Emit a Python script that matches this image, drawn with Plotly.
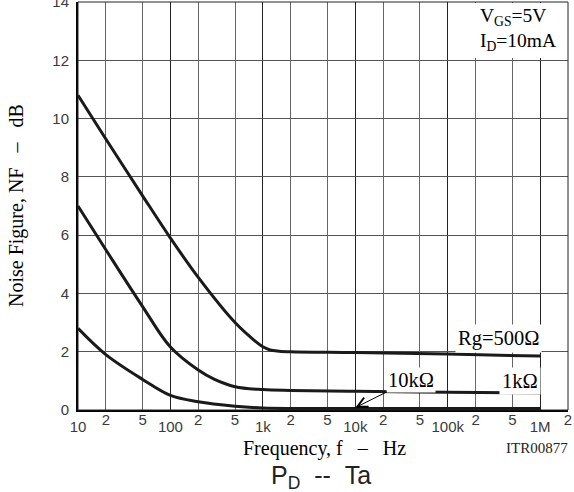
import plotly.graph_objects as go

# ---- data ----
freq_500 = [10, 20, 50, 100, 200, 500, 800, 1000, 1200, 1500, 2000, 10000, 100000, 1000000]
nf_500 = [10.8, 9.3, 7.35, 5.9, 4.55, 3.0, 2.4, 2.17, 2.06, 2.02, 2.0, 1.97, 1.92, 1.85]

freq_1k = [10, 20, 50, 100, 200, 300, 500, 1000, 2000, 10000, 100000, 1000000]
nf_1k = [7.0, 5.5, 3.55, 2.16, 1.37, 1.05, 0.8, 0.7, 0.67, 0.64, 0.61, 0.58]

freq_10k = [10, 20, 50, 100, 200, 500, 1000, 10000, 1000000]
nf_10k = [2.8, 1.9, 1.05, 0.5, 0.28, 0.13, 0.07, 0.05, 0.05]

major_ticks = [10, 100, 1000, 10000, 100000, 1000000]
major_labels = ["10", "100", "1k", "10k", "100k", "1M"]
minor_ticks = [20, 50, 200, 500, 2000, 5000, 20000, 50000, 200000, 500000, 2000000]
minor_labels = ["2", "5", "2", "5", "2", "5", "2", "5", "2", "5", "2"]
y_ticks = [0, 2, 4, 6, 8, 10, 12, 14]

# ---- geometry ----
W, H = 574, 492
ML, MR, MT, MB = 78, 6, 2, 82
PW, PH = W - ML - MR, H - MT - MB


def px(x):
    return (x - ML) / PW


def py(y):
    return (H - MB - y) / PH


SERIF = "Liberation Serif, Times New Roman, serif"
SANS = "Liberation Sans, Arial, sans-serif"
NB = "\u00a0"

fig = go.Figure()
line = dict(color="#1a1a1a", width=3, shape="spline", smoothing=1.0)
for f, nf, name in [(freq_500, nf_500, "500"), (freq_1k, nf_1k, "1k"), (freq_10k, nf_10k, "10k")]:
    fig.add_trace(go.Scatter(x=f, y=nf, mode="lines", line=line, name=name,
                             showlegend=False, hoverinfo="skip"))
# invisible trace to activate overlay x axis
fig.add_trace(go.Scatter(x=[10, 2000000], y=[0, 0], xaxis="x2", mode="lines",
                         line=dict(width=0), showlegend=False, hoverinfo="skip"))

xr = [1, 6.30115]
tickfont = dict(family=SANS, size=15, color="#3a3a3a")
fig.update_layout(
    width=W, height=H,
    margin=dict(l=ML, r=MR, t=MT, b=MB, autoexpand=False),
    paper_bgcolor="white", plot_bgcolor="white",
    xaxis=dict(type="log", range=xr, tickvals=major_ticks, ticktext=major_labels,
               showgrid=True, gridcolor="#222", gridwidth=1.4, ticks="",
               showline=True, linecolor="black", linewidth=2, zeroline=False,
               tickfont=tickfont, ticklabelstandoff=2, automargin=False,
               ticklabeloverflow="allow"),
    xaxis2=dict(type="log", range=xr, overlaying="x", side="bottom", anchor="y",
                tickvals=minor_ticks, ticktext=minor_labels,
                showgrid=True, gridcolor="#666", gridwidth=1, ticks="",
                showline=False, zeroline=False,
                tickfont=tickfont, ticklabelstandoff=-1, automargin=False,
                ticklabeloverflow="allow"),
    yaxis=dict(range=[0, 14.001], tickvals=y_ticks, showgrid=True, gridcolor="#555",
               gridwidth=1, ticks="", showline=True, linecolor="black", linewidth=2,
               zeroline=False, tickfont=tickfont, ticklabelstandoff=4,
               automargin=False, ticklabeloverflow="allow"),
)

# plot border
fig.add_shape(type="rect", xref="paper", yref="paper", x0=0, x1=1, y0=0, y1=1,
              line=dict(color="#222", width=1), layer="above")
# white box behind conditions text
fig.add_shape(type="rect", xref="paper", yref="paper", x0=px(456), x1=px(566),
              y0=py(58), y1=py(3), fillcolor="white", line=dict(width=0), layer="above")

C = dict(xanchor="center", yanchor="middle", showarrow=False)
ann = []
ann.append(dict(xref="paper", yref="paper", x=px(518), y=py(30), **C, align="left",
                text="V<sub>GS</sub>=5V<br>I<sub>D</sub>=10mA",
                font=dict(family=SERIF, size=19.5, color="black")))
ann.append(dict(xref="paper", yref="paper", x=px(498), y=py(338), **C,
                text="Rg=500Ω", bgcolor="white", borderpad=2,
                font=dict(family=SERIF, size=20.5, color="black")))
ann.append(dict(xref="paper", yref="paper", x=px(520), y=py(381), **C,
                text="1kΩ", bgcolor="white", borderpad=2,
                font=dict(family=SERIF, size=20.5, color="black")))
ann.append(dict(xref="x", yref="y", x=4, y=0.08, ax=56, ay=-28, showarrow=True,
                xanchor="center", yanchor="middle",
                arrowhead=5, arrowsize=2, arrowwidth=1, arrowcolor="black",
                text="10kΩ", bgcolor="white", borderpad=1,
                font=dict(family=SERIF, size=20.5, color="black")))
ann.append(dict(xref="paper", yref="paper", x=px(324), y=py(448), **C,
                text="Frequency," + NB + "f" + NB * 3 + "–" + NB * 3 + "Hz",
                font=dict(family=SERIF, size=20, color="black")))
ann.append(dict(xref="paper", yref="paper", x=px(537), y=py(448), **C,
                text="ITR00877", font=dict(family=SERIF, size=15, color="#222")))
ann.append(dict(xref="paper", yref="paper", x=px(16), y=py(206), **C,
                textangle=-90,
                text="Noise" + NB + "Figure," + NB + "NF" + NB * 3 + "–" + NB * 3 + "dB",
                font=dict(family=SERIF, size=20, color="black")))
ann.append(dict(xref="paper", yref="paper", x=px(321), y=py(477), **C,
                text="P<sub>D</sub>" + NB * 2 + "--" + NB * 2 + "Ta",
                font=dict(family=SANS, size=25, color="#222")))
ann.append(dict(xref="paper", yref="paper", x=px(59), y=py(487), xanchor="center",
                yanchor="top", showarrow=False, text="250",
                font=dict(family=SANS, size=15, color="#555")))
fig.update_layout(annotations=ann)

fig.write_html("out.html", config={"displayModeBar": False},
               post_script="document.body.style.margin='0';document.body.style.overflow='hidden';")
